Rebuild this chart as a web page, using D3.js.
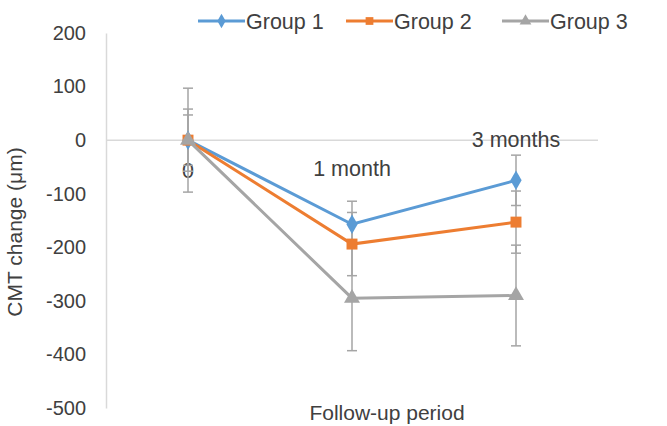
<!DOCTYPE html>
<html>
<head>
<meta charset="utf-8">
<script src="https://cdn.jsdelivr.net/npm/d3@7"></script>
<style>
  body { margin: 0; background: #fff; }
  svg text { font-family: "Liberation Sans", Arial, sans-serif; fill: #404040; }
</style>
</head>
<body>
<svg id="chart" width="667" height="426"></svg>
<script>
var periods = ["0", "1 month", "3 months"];
var seriesNames = ["Group 1", "Group 2", "Group 3"];
var group1 = [0, -157, -75];
var group2 = [0, -194, -153];
var group3 = [0, -295, -290];
var err1 = [47, 43, 47];
var err2 = [58, 59, 58];
var err3 = [97, 98, 94];
var yTicks = [200, 100, 0, -100, -200, -300, -400, -500];

var colors = ["#5b9bd5", "#ed7d31", "#a5a5a5"];
var shapes = [d3.symbolDiamond, d3.symbolSquare, d3.symbolTriangle];
var series = [
  { name: seriesNames[0], values: group1, errs: err1 },
  { name: seriesNames[1], values: group2, errs: err2 },
  { name: seriesNames[2], values: group3, errs: err3 }
];

var svg = d3.select("#chart"),
    margin = {top: 33, left: 106, right: 69, bottom: 18},
    width = +svg.attr("width") - margin.left - margin.right,
    height = +svg.attr("height") - margin.top - margin.bottom;

var x = d3.scaleBand().domain(periods).range([0, width]);
var y = d3.scaleLinear().domain([-500, 200]).range([height, 0]);

var g = svg.append("g")
  .attr("transform", "translate(" + margin.left + "," + margin.top + ")");

function cx(i) { return x(periods[i]) + x.bandwidth() / 2; }

// y axis (plain hyphen minus like the original)
var yAxis = d3.axisLeft(y).tickValues(yTicks).tickSize(0).tickPadding(20)
  .tickFormat(function(d) { return String(d); });
var ya = g.append("g").call(yAxis);
ya.select(".domain").attr("stroke", "#d9d9d9").attr("stroke-width", 1.5);
ya.selectAll("text").style("font-size", "20px").attr("fill", "#404040");

// zero line
g.append("line")
  .attr("x1", 0).attr("x2", width)
  .attr("y1", y(0)).attr("y2", y(0))
  .attr("stroke", "#d9d9d9").attr("stroke-width", 1.5);

// period labels drawn inside plot
var labelPos = [[0, -57], [1, -52], [2, 2]];
g.selectAll(".plabel").data(labelPos).enter().append("text")
  .attr("class", "plabel")
  .attr("x", function(d) { return cx(d[0]); })
  .attr("y", function(d) { return y(d[1]); })
  .attr("text-anchor", "middle")
  .attr("dy", "0.35em")
  .style("font-size", "21.5px")
  .text(function(d) { return periods[d[0]]; });

// error bars
series.forEach(function(s) {
  var eb = g.append("g").attr("stroke", "#a5a5a5").attr("stroke-width", 1.5);
  s.values.forEach(function(v, i) {
    var top = y(v + s.errs[i]), bot = y(v - s.errs[i]);
    eb.append("line").attr("x1", cx(i)).attr("x2", cx(i)).attr("y1", top).attr("y2", bot);
    eb.append("line").attr("x1", cx(i) - 5).attr("x2", cx(i) + 5).attr("y1", top).attr("y2", top);
    eb.append("line").attr("x1", cx(i) - 5).attr("x2", cx(i) + 5).attr("y1", bot).attr("y2", bot);
  });
});

// lines + markers
var line = d3.line()
  .x(function(d, i) { return cx(i); })
  .y(function(d) { return y(d); });

series.forEach(function(s, k) {
  g.append("path")
    .datum(s.values)
    .attr("fill", "none")
    .attr("stroke", colors[k])
    .attr("stroke-width", 3)
    .attr("d", line);
  g.selectAll(".m" + k).data(s.values).enter().append("path")
    .attr("class", "m" + k)
    .attr("transform", function(d, i) { return "translate(" + cx(i) + "," + y(d) + ")"; })
    .attr("d", d3.symbol().type(shapes[k]).size(k === 1 ? 120 : 110))
    .attr("fill", colors[k]);
});

// legend
var legendX = [198, 346, 502];
var lg = svg.append("g").attr("transform", "translate(0,21)");
series.forEach(function(s, k) {
  var it = lg.append("g").attr("transform", "translate(" + legendX[k] + ",0)");
  it.append("line").attr("x1", 0).attr("x2", 47).attr("y1", 0).attr("y2", 0)
    .attr("stroke", colors[k]).attr("stroke-width", 3);
  it.append("path").attr("transform", "translate(23.5,0)")
    .attr("d", d3.symbol().type(shapes[k]).size(60))
    .attr("fill", colors[k]);
  it.append("text").attr("x", 48).attr("dy", "0.35em")
    .style("font-size", "21.5px").text(s.name);
});

// axis titles
svg.append("text")
  .attr("transform", "translate(22,232) rotate(-90)")
  .attr("text-anchor", "middle")
  .style("font-size", "21px")
  .text("CMT change (μm)");

svg.append("text")
  .attr("x", 387).attr("y", 420)
  .attr("text-anchor", "middle")
  .style("font-size", "21px")
  .text("Follow-up period");
</script>
</body>
</html>
